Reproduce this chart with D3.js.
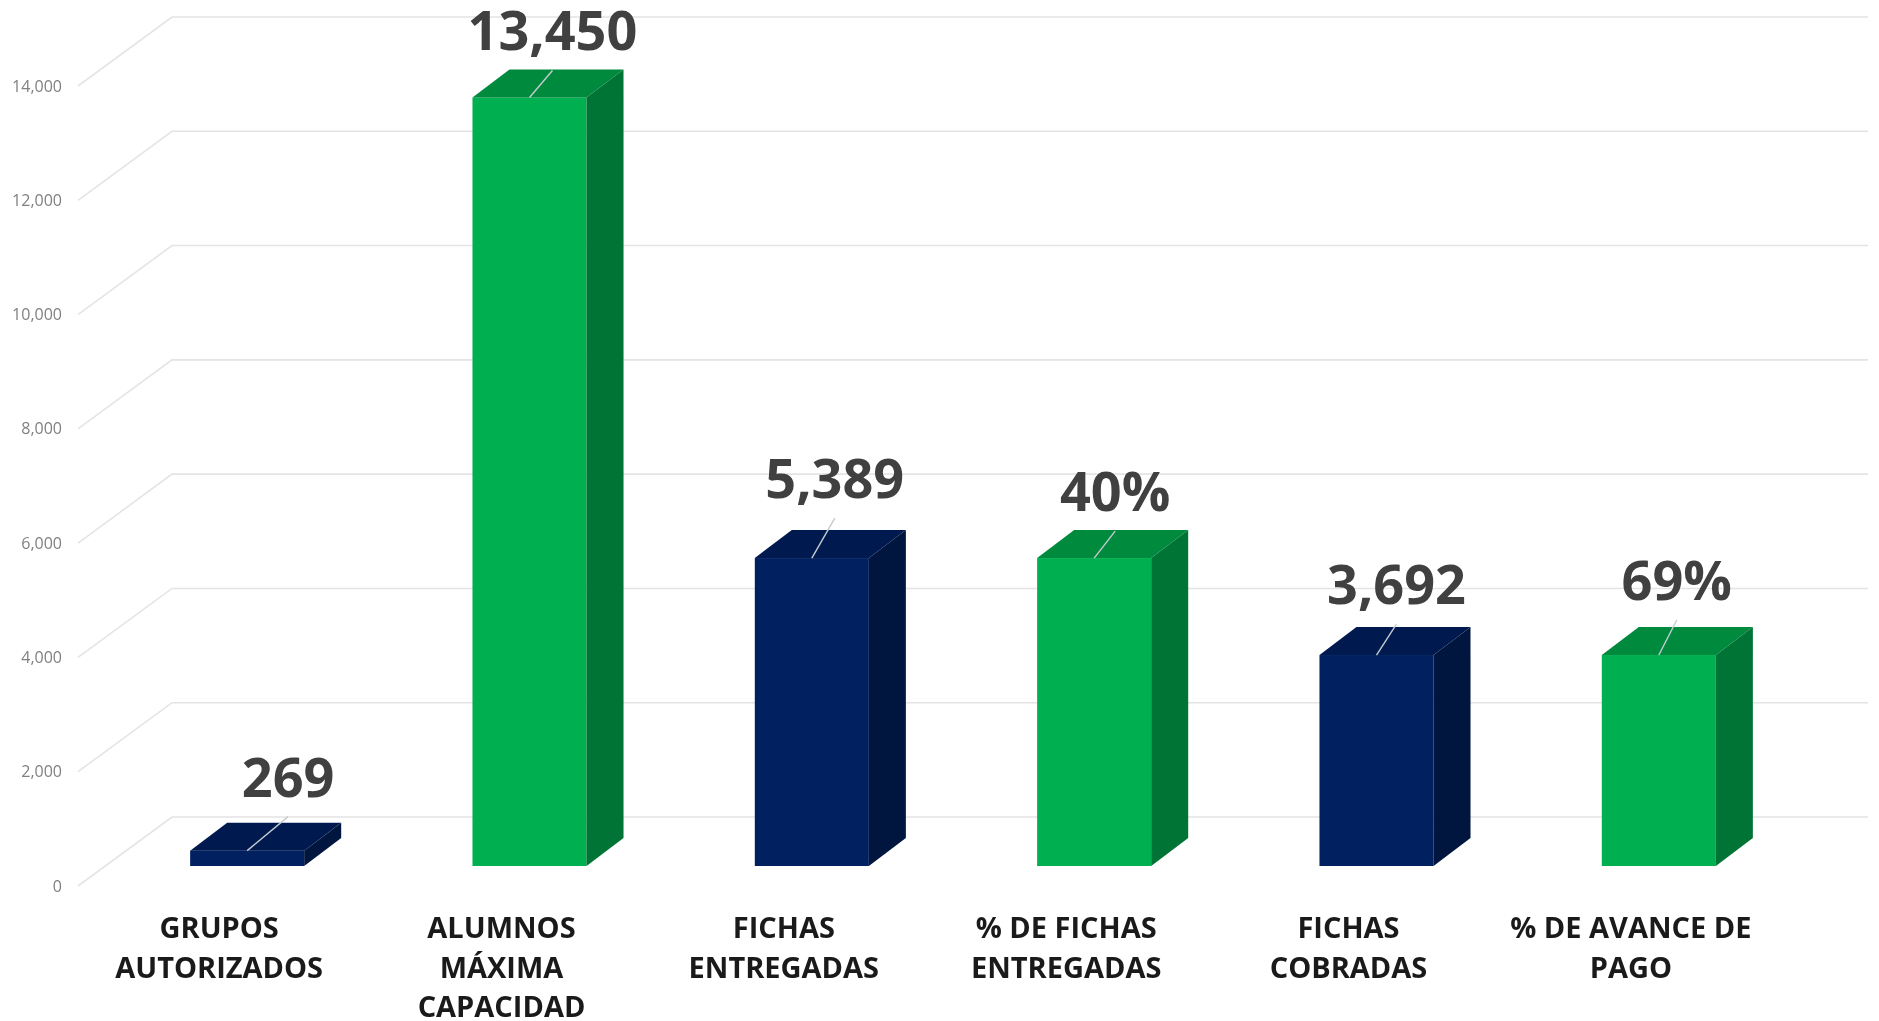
<!DOCTYPE html>
<html>
<head>
<meta charset="utf-8">
<script src="https://d3js.org/d3.v7.min.js"></script>
<style>
  html, body { margin: 0; background: #fff; }
  /* the source is a soft upscaled picture */
  svg { display: block; font-family: "Open Sans", sans-serif; filter: blur(0.6px); }
</style>
</head>
<body>
<svg id="main_svg" width="1879" height="1021"></svg>
<script>
const categories = ["GRUPOS AUTORIZADOS", "ALUMNOS MÁXIMA CAPACIDAD", "FICHAS ENTREGADAS", "% DE FICHAS ENTREGADAS", "FICHAS COBRADAS", "% DE AVANCE DE PAGO"];
const categoryLines = [["GRUPOS", "AUTORIZADOS"], ["ALUMNOS", "MÁXIMA", "CAPACIDAD"], ["FICHAS", "ENTREGADAS"], ["% DE FICHAS", "ENTREGADAS"], ["FICHAS", "COBRADAS"], ["% DE AVANCE DE", "PAGO"]];
const values = [269, 13450, 5389, 5389, 3692, 3692];
const valueLabels = ["269", "13,450", "5,389", "40%", "3,692", "69%"];
const colorGroups = ["navy", "green", "navy", "green", "navy", "green"];
const yTicks = [0, 2000, 4000, 6000, 8000, 10000, 12000, 14000];

// label nudges, these were moved by hand in the original
const labelDx = [98, 80, 80, 78, 77, 75];
const labelDy = [-54, -47, -60, -47, -51, -55];

const shades = {
  navy: {front: "#002060", top: "#001a50", side: "#00163f"},
  green: {front: "#00b050", top: "#008a3e", side: "#007434"}
};

const wallDepth = {x: 94, y: 69};
const barOffset = {x: 28, y: 20};
const barDepth = {x: 37, y: 28};

const svg = d3.select("#main_svg");
const x = d3.scaleBand().domain(categories).range([78, 1772]).paddingInner(0.596).paddingOuter(0.298);
const y = d3.scaleLinear().domain([0, 14000]).range([886, 86]);

// grid, runs from the front edge up the side wall and along the back
svg.append("g").selectAll("path").data(yTicks).enter().append("path")
  .attr("d", d => {
    const p = d3.path();
    p.moveTo(x.range()[0], y(d));
    p.lineTo(x.range()[0] + wallDepth.x, y(d) - wallDepth.y);
    p.lineTo(x.range()[1] + wallDepth.x + 2, y(d) - wallDepth.y);
    return p.toString();
  })
  .attr("fill", "none")
  .attr("stroke", "#e4e4e4")
  .attr("stroke-width", 1.6);

// y axis
const yAxis = svg.append("g").attr("transform", "translate(62,0)")
  .call(d3.axisLeft(y).tickValues(yTicks).tickSize(0).tickPadding(0).tickFormat(d3.format(",")));
yAxis.select(".domain").remove();
yAxis.selectAll("text").attr("font-size", 16).attr("font-family", "'Open Sans', sans-serif").attr("font-weight", 400).attr("fill", "#808080");

// bars
const bars = svg.append("g").selectAll("g").data(values).enter().append("g");
const left = (d, i) => x(categories[i]) + barOffset.x;
const right = (d, i) => left(d, i) + x.bandwidth();
const base = y(0) - barOffset.y;
const top_ = d => base - (y(0) - y(d));

bars.append("rect")
  .attr("x", left)
  .attr("y", top_)
  .attr("width", x.bandwidth())
  .attr("height", d => base - top_(d))
  .attr("fill", (d, i) => shades[colorGroups[i]].front);

bars.append("path")
  .attr("d", (d, i) => d3.line()([
    [left(d, i), top_(d)],
    [left(d, i) + barDepth.x, top_(d) - barDepth.y],
    [right(d, i) + barDepth.x, top_(d) - barDepth.y],
    [right(d, i), top_(d)]
  ]) + "Z")
  .attr("fill", (d, i) => shades[colorGroups[i]].top);

bars.append("path")
  .attr("d", (d, i) => d3.line()([
    [right(d, i), top_(d)],
    [right(d, i) + barDepth.x, top_(d) - barDepth.y],
    [right(d, i) + barDepth.x, base - barDepth.y],
    [right(d, i), base]
  ]) + "Z")
  .attr("fill", (d, i) => shades[colorGroups[i]].side);

// leader lines
bars.append("line")
  .attr("x1", (d, i) => left(d, i) + x.bandwidth() / 2)
  .attr("y1", top_)
  .attr("x2", (d, i) => left(d, i) + labelDx[i])
  .attr("y2", (d, i) => top_(d) + labelDy[i] + 20)
  .attr("stroke", "#c4ccd0")
  .attr("stroke-width", 1.4);

// value labels
bars.append("text")
  .attr("x", (d, i) => left(d, i) + labelDx[i])
  .attr("y", (d, i) => top_(d) + labelDy[i])
  .attr("text-anchor", "middle")
  .attr("font-size", 54)
  .attr("font-weight", 700)
  .attr("fill", "#404040")
  .text((d, i) => valueLabels[i]);

// category labels
svg.append("g").selectAll("text").data(categories).enter().append("text")
  .attr("text-anchor", "middle")
  .attr("font-size", 29)
  .attr("font-weight", 700)
  .attr("fill", "#1a1a1a")
  .each(function (d, i) {
    d3.select(this).selectAll("tspan").data(categoryLines[i]).enter().append("tspan")
      .attr("x", x(d) + x.bandwidth() / 2)
      .attr("y", (line, n) => 938 + n * 39.5)
      .text(line => line);
  });
</script>
</body>
</html>
